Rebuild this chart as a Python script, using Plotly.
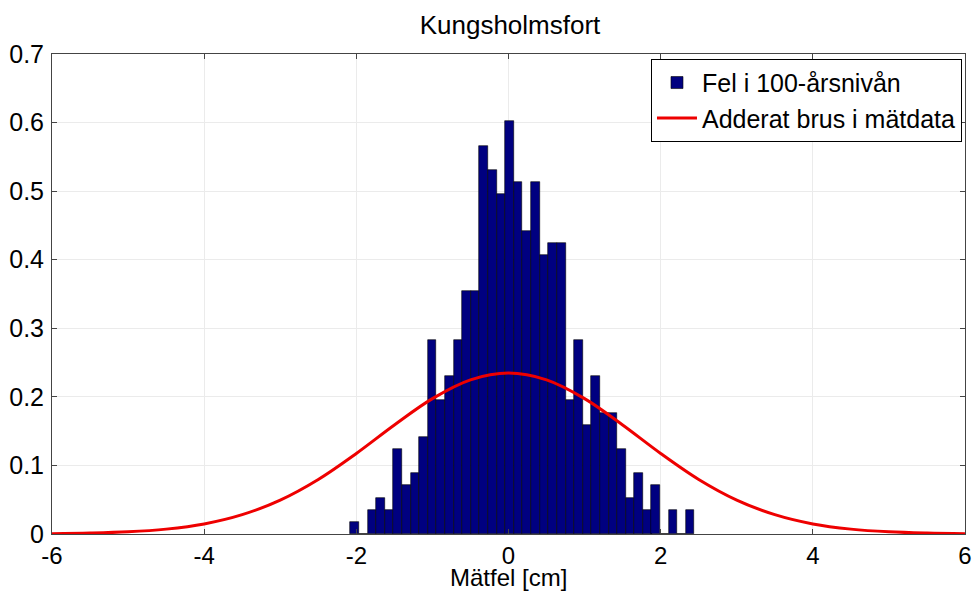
import plotly.graph_objects as go

# Histogram bin centers (cm) and densities
bin_centers = [-2.021, -1.908, -1.795, -1.682, -1.569, -1.456, -1.343, -1.229, -1.116, -1.003,
               -0.890, -0.777, -0.664, -0.551, -0.438, -0.325, -0.212, -0.099, 0.014, 0.127,
               0.240, 0.353, 0.466, 0.579, 0.693, 0.806, 0.919, 1.032, 1.145, 1.258,
               1.371, 1.484, 1.597, 1.710, 1.823, 1.936, 2.049, 2.162, 2.275, 2.388]
bin_width = 0.1131
densities = [0.0177, 0.0, 0.0354, 0.0531, 0.0354, 0.1239, 0.0708, 0.0885, 0.1416, 0.2832,
             0.1947, 0.2301, 0.2832, 0.3540, 0.3540, 0.5664, 0.5310, 0.4956, 0.6018, 0.5133,
             0.4425, 0.5133, 0.4071, 0.4248, 0.4248, 0.1947, 0.2832, 0.1593, 0.2301, 0.1770,
             0.1770, 0.1239, 0.0531, 0.0885, 0.0354, 0.0708, 0.0, 0.0354, 0.0, 0.0354]

# Noise curve
curve_x = [-6, -5.5, -5, -4.5, -4, -3.5, -3, -2.5, -2, -1.5, -1, -0.5, 0,
           0.5, 1, 1.5, 2, 2.5, 3, 3.5, 4, 4.5, 5, 5.5, 6]
curve_y = [0.0005, 0.0013, 0.0031, 0.0071, 0.0147, 0.0282, 0.0495, 0.0796, 0.1175, 0.1590,
           0.1974, 0.2248, 0.2347, 0.2248, 0.1974, 0.1590, 0.1175, 0.0796, 0.0495, 0.0282,
           0.0147, 0.0071, 0.0031, 0.0013, 0.0005]

x_ticks = [-6, -4, -2, 0, 2, 4, 6]
y_ticks = [0, 0.1, 0.2, 0.3, 0.4, 0.5, 0.6, 0.7]

FONT = "Liberation Sans, Arial, sans-serif"

fig = go.Figure()
fig.add_trace(go.Bar(
    x=bin_centers, y=densities, width=bin_width,
    marker=dict(color="#000080", line=dict(color="#000000", width=0.6)),
    name="Fel i 100-årsnivån",
))
fig.add_trace(go.Scatter(
    x=curve_x, y=curve_y, mode="lines", line=dict(color="#ee0000", width=3, shape="spline"),
    name="Adderat brus i mätdata",
))

axis_common = dict(
    showline=True, linecolor="#444444", linewidth=1, mirror="ticks",
    ticks="inside", ticklen=5, tickcolor="#444444",
    showgrid=True, gridcolor="#ebebeb", gridwidth=1,
    zeroline=False, automargin=False,
)

fig.update_layout(
    width=977, height=592,
    margin=dict(l=52, r=12, t=54, b=58),
    paper_bgcolor="white", plot_bgcolor="white",
    font=dict(family=FONT, size=25, color="black"),
    title=dict(text="Kungsholmsfort", x=0.522, xanchor="center", y=0.958, yanchor="middle",
               font=dict(family=FONT, size=26, color="black")),
    bargap=0,
    showlegend=True,
    legend=dict(x=0.9967, y=0.99, xanchor="right", yanchor="top",
                bgcolor="white", bordercolor="#000000", borderwidth=1,
                font=dict(family=FONT, size=25, color="black"),
                tracegroupgap=0, itemwidth=40),
    xaxis=dict(range=[-6, 6], tickvals=x_ticks, ticktext=[str(v) for v in x_ticks],
               ticklabelstandoff=0,
               tickfont=dict(family=FONT, size=24, color="black"),
               **axis_common),
    yaxis=dict(range=[0, 0.7], tickvals=y_ticks, ticktext=[("%g" % v) for v in y_ticks],
               ticklabelstandoff=2,
               tickfont=dict(family=FONT, size=25, color="black"),
               **axis_common),
    annotations=[dict(text="Mätfel [cm]", xref="paper", yref="paper", x=0.5, y=-0.121,
                      xanchor="center", yanchor="bottom", showarrow=False, borderpad=0,
                      font=dict(family=FONT, size=24, color="black"))],
)

fig.write_html("out.html", config={"displayModeBar": False},
               post_script="document.body.style.margin='0';document.body.style.overflow='hidden';")
